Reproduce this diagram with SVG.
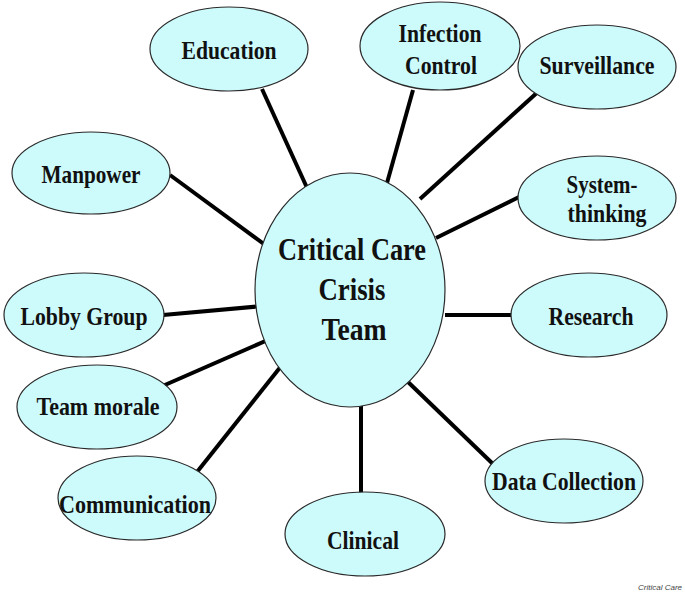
<svg xmlns="http://www.w3.org/2000/svg" width="685" height="592" viewBox="0 0 685 592">
<style>
.n ellipse{fill:#cdfbfc;stroke:#2a2a2a;stroke-width:1.2}
.n text{font-family:"Liberation Serif","Times New Roman",serif;font-weight:bold;font-size:25px;fill:#111;text-anchor:middle}
.c text{font-size:31px}
#connectors line{stroke:#000;stroke-width:4;stroke-linecap:butt}
.foot{font-family:"Liberation Sans",Arial,sans-serif;font-style:italic;font-size:8px;fill:#444}
</style>
<rect width="685" height="592" fill="#fff"/>
<g id="connectors">
<line x1="262" y1="89" x2="308" y2="190"/>
<line x1="170" y1="175" x2="268" y2="247"/>
<line x1="413" y1="90" x2="387" y2="183"/>
<line x1="540" y1="90" x2="420" y2="199"/>
<line x1="519" y1="197" x2="436" y2="238"/>
<line x1="163" y1="315" x2="263" y2="306"/>
<line x1="445" y1="315" x2="512" y2="315"/>
<line x1="158" y1="388" x2="270" y2="339"/>
<line x1="197" y1="472" x2="282" y2="365"/>
<line x1="361" y1="406" x2="361" y2="497"/>
<line x1="407" y1="381" x2="493" y2="464"/>
</g>
<g id="center" class="n c">
<ellipse cx="350" cy="290" rx="95" ry="117"/>
<text x="352" y="260" textLength="148" lengthAdjust="spacingAndGlyphs">Critical Care</text>
<text x="352" y="300" textLength="67" lengthAdjust="spacingAndGlyphs">Crisis</text>
<text x="354" y="340" textLength="65" lengthAdjust="spacingAndGlyphs">Team</text>
</g>
<g id="education" class="n">
<ellipse cx="229" cy="49" rx="79" ry="42"/>
<text x="229" y="59" textLength="95" lengthAdjust="spacingAndGlyphs">Education</text>
</g>
<g id="manpower" class="n">
<ellipse cx="91" cy="173" rx="79" ry="41"/>
<text x="91" y="183" textLength="99" lengthAdjust="spacingAndGlyphs">Manpower</text>
</g>
<g id="infection-control" class="n">
<ellipse cx="440" cy="46" rx="80" ry="44"/>
<text x="440" y="42" textLength="83" lengthAdjust="spacingAndGlyphs">Infection</text>
<text x="441" y="74" textLength="72" lengthAdjust="spacingAndGlyphs">Control</text>
</g>
<g id="surveillance" class="n">
<ellipse cx="597" cy="67" rx="79" ry="42"/>
<text x="597" y="74" textLength="115" lengthAdjust="spacingAndGlyphs">Surveillance</text>
</g>
<g id="system-thinking" class="n">
<ellipse cx="597" cy="198" rx="79" ry="42"/>
<text x="602" y="193" textLength="71" lengthAdjust="spacingAndGlyphs">System-</text>
<text x="607" y="222" textLength="79" lengthAdjust="spacingAndGlyphs">thinking</text>
</g>
<g id="lobby-group" class="n">
<ellipse cx="84" cy="315" rx="80" ry="42"/>
<text x="84" y="325" textLength="127" lengthAdjust="spacingAndGlyphs">Lobby Group</text>
</g>
<g id="research" class="n">
<ellipse cx="589" cy="315" rx="78" ry="42"/>
<text x="591" y="325" textLength="85" lengthAdjust="spacingAndGlyphs">Research</text>
</g>
<g id="team-morale" class="n">
<ellipse cx="97" cy="407" rx="80" ry="42"/>
<text x="98" y="415" textLength="123" lengthAdjust="spacingAndGlyphs">Team morale</text>
</g>
<g id="communication" class="n">
<ellipse cx="137" cy="498" rx="79" ry="42"/>
<text x="135" y="513" textLength="152" lengthAdjust="spacingAndGlyphs">Communication</text>
</g>
<g id="clinical" class="n">
<ellipse cx="365" cy="534" rx="80" ry="42"/>
<text x="363" y="549" textLength="72" lengthAdjust="spacingAndGlyphs">Clinical</text>
</g>
<g id="data-collection" class="n">
<ellipse cx="564" cy="481" rx="79" ry="42"/>
<text x="564" y="490" textLength="144" lengthAdjust="spacingAndGlyphs">Data Collection</text>
</g>
<text class="foot" x="682" y="590" text-anchor="end">Critical Care</text>
</svg>
